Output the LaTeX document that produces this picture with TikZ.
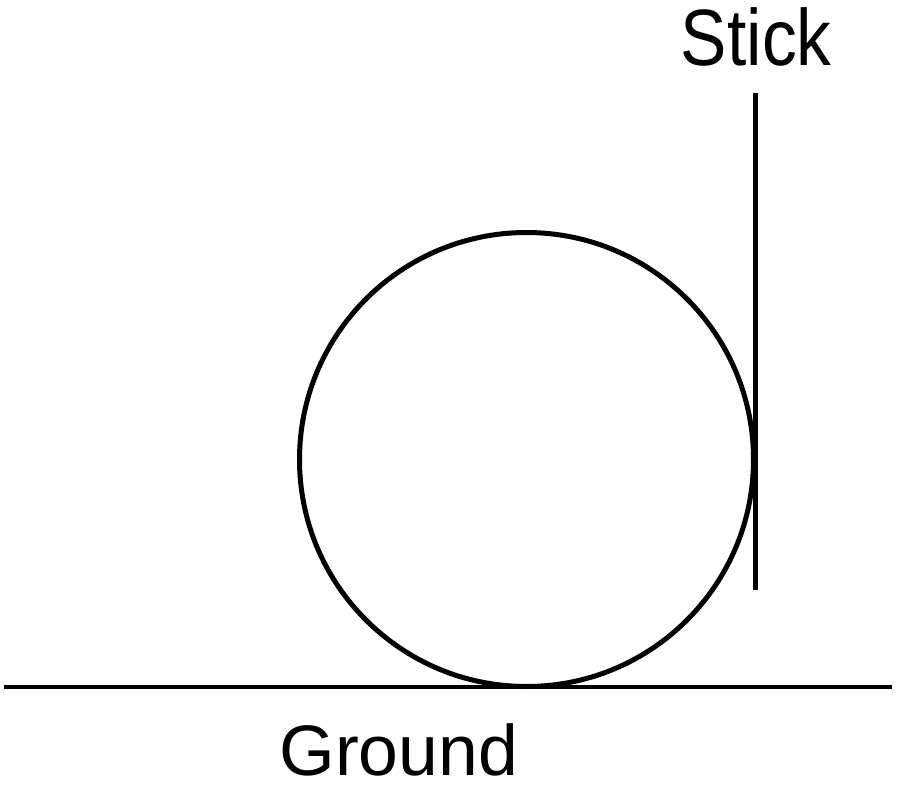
\documentclass[tikz,border=0pt]{standalone}
\usepackage{fontspec}
\setmainfont{Liberation Sans}
\begin{document}
\begin{tikzpicture}[x=1pt,y=-1pt,
  line/.style={line width=4.6pt,black},
  lbl/.style={anchor=base,inner sep=0pt}]
\useasboundingbox (0,0) rectangle (900,787);
\coordinate (gl) at (4,687);
\coordinate (gr) at (892,687);
\coordinate (st) at (755,93);
\coordinate (sb) at (755,590);
\coordinate (c) at (526.5,459.5);
\draw[line] (gl) -- (gr);
\draw[line,line width=5pt] (c) circle[radius=227];
\draw[line,line width=5pt] (st) -- (sb);
\node[lbl,font=\fontsize{69.5}{75}\selectfont] (stick) at (756.2,65) {\scalebox{1}[1.15]{Stick}};
\node[lbl,font=\fontsize{71.5}{78}\selectfont] (ground) at (398.7,775) {Ground};
\end{tikzpicture}
\end{document}
